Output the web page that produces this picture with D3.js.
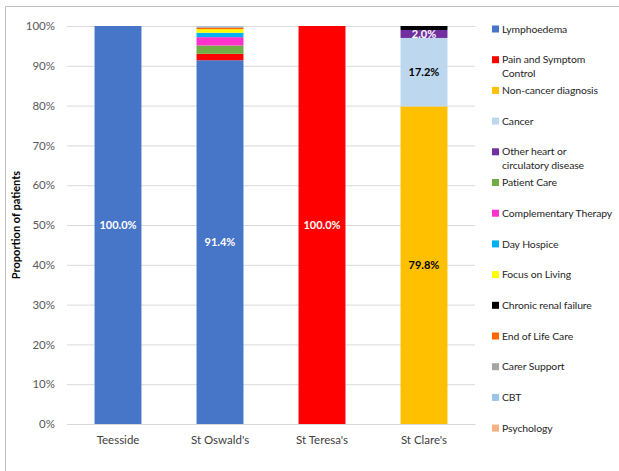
<!DOCTYPE html>
<html>
<head>
<meta charset="utf-8">
<script src="https://cdn.jsdelivr.net/npm/d3@7"></script>
<style>
  body { margin: 0; background: #fff; }
  svg { display: block; font-family: Lato, "Liberation Sans", sans-serif; }
</style>
</head>
<body>
<svg id="chart"></svg>
<script>
// categories and series (percent of patients)
const categories = ["Teesside", "St Oswald's", "St Teresa's", "St Clare's"];
const seriesNames = [
    "Lymphoedema", "Pain and Symptom Control", "Non-cancer diagnosis", "Cancer",
    "Other heart or circulatory disease", "Patient Care", "Complementary Therapy",
    "Day Hospice", "Focus on Living", "Chronic renal failure", "End of Life Care",
    "Carer Support", "CBT", "Psychology"
];
const lymphoedema   = [100, 91.4, 0, 0];
const painSymptom   = [0, 1.6, 100, 0];
const nonCancer     = [0, 0, 0, 79.8];
const cancer        = [0, 0, 0, 17.2];
const otherHeart    = [0, 0, 0, 2.0];
const patientCare   = [0, 2.1, 0, 0];
const complementary = [0, 2.1, 0, 0];
const dayHospice    = [0, 1.1, 0, 0];
const focusLiving   = [0, 0.9, 0, 0];
const chronicRenal  = [0, 0, 0, 1.0];
const endOfLife     = [0, 0.4, 0, 0];
const carerSupport  = [0, 0.2, 0, 0];
const cbt           = [0, 0.2, 0, 0];
const psychology    = [0, 0, 0, 0];
const yTicks = [0, 10, 20, 30, 40, 50, 60, 70, 80, 90, 100];
// segments that carry a data label: [category, series]
const labelled = [
    ["Teesside", "Lymphoedema"],
    ["St Oswald's", "Lymphoedema"],
    ["St Teresa's", "Pain and Symptom Control"],
    ["St Clare's", "Non-cancer diagnosis"],
    ["St Clare's", "Cancer"],
    ["St Clare's", "Other heart or circulatory disease"]
];

const allValues = [lymphoedema, painSymptom, nonCancer, cancer, otherHeart, patientCare,
    complementary, dayHospice, focusLiving, chronicRenal, endOfLife, carerSupport, cbt, psychology];

const colors = ["#4775c8", "#ff0000", "#ffc000", "#bdd7ee", "#7030a0", "#70ad47", "#ff33cc",
    "#00b0f0", "#ffff00", "#000000", "#ff6600", "#a5a5a5", "#9dc3e6", "#f4b183"];
const legendLines = {
    "Pain and Symptom Control": ["Pain and Symptom", "Control"],
    "Other heart or circulatory disease": ["Other heart or", "circulatory disease"]
};
const darkText = new Set(["Non-cancer diagnosis", "Cancer"]);

const table = categories.map((c, i) => {
    const row = { category: c };
    seriesNames.forEach((s, j) => row[s] = allValues[j][i]);
    return row;
});

const width = 619, height = 471;
const margin = { top: 26, right: 144, bottom: 47, left: 67 };
const innerW = width - margin.left - margin.right;
const innerH = height - margin.top - margin.bottom;

const svg = d3.select("#chart").attr("width", width).attr("height", height);

// outer frame (only top and left edges are visible in the crop)
svg.append("path")
    .attr("d", `M5.5,${height} V6.5 H${width}`)
    .attr("fill", "none")
    .attr("stroke", "#bfbfbf");

const chart = svg.append("g")
    .attr("transform", `translate(${margin.left},${margin.top})`);

const xscale = d3.scaleBand()
    .domain(categories)
    .range([0, innerW])
    .paddingInner(0.54)
    .paddingOuter(0.27);

const yscale = d3.scaleLinear()
    .domain([0, 100])
    .range([innerH, 0]);

const color = d3.scaleOrdinal().domain(seriesNames).range(colors);

// gridlines
chart.append("g")
    .selectAll("line")
    .data(yTicks)
    .join("line")
    .attr("x1", 0).attr("x2", innerW)
    .attr("y1", d => yscale(d) + 0.5).attr("y2", d => yscale(d) + 0.5)
    .attr("stroke", "#d9d9d9");

// y axis
const yaxis = d3.axisLeft(yscale).tickValues(yTicks).tickFormat(d => d + "%").tickSize(0).tickPadding(12);
chart.append("g")
    .call(yaxis)
    .call(g => g.select(".domain").remove())
    .selectAll("text")
    .attr("fill", "#595959")
    .attr("font-size", 11.5)
    .attr("font-family", "Lato, sans-serif");

// stacked bars
const stacked = d3.stack().keys(seriesNames)(table);

chart.append("g")
    .selectAll("g")
    .data(stacked)
    .join("g")
    .attr("fill", d => color(d.key))
    .selectAll("rect")
    .data(d => d.filter(p => p[1] - p[0] > 0))
    .join("rect")
    .attr("x", d => xscale(d.data.category))
    .attr("width", xscale.bandwidth())
    .attr("y", d => yscale(d[1]))
    .attr("height", d => yscale(d[0]) - yscale(d[1]));

// x axis
const xaxis = d3.axisBottom(xscale).tickSize(0).tickPadding(12);
chart.append("g")
    .attr("transform", `translate(0,${innerH})`)
    .call(xaxis)
    .call(g => g.select(".domain").attr("stroke", "#d9d9d9"))
    .selectAll("text")
    .attr("fill", "#404040")
    .attr("font-size", 11.5)
    .attr("font-family", "Lato, sans-serif");

// data labels
const labelData = labelled.map(([c, s]) => {
    const layer = stacked.find(l => l.key === s);
    const p = layer[categories.indexOf(c)];
    return { c, s, y0: p[0], y1: p[1], v: p[1] - p[0] };
});

chart.append("g")
    .selectAll("text")
    .data(labelData)
    .join("text")
    .attr("x", d => xscale(d.c) + xscale.bandwidth() / 2)
    .attr("y", d => yscale((d.y0 + d.y1) / 2))
    .attr("dy", "0.35em")
    .attr("text-anchor", "middle")
    .attr("font-size", 11)
    .attr("font-weight", "bold")
    .attr("fill", d => darkText.has(d.s) ? "#000" : "#fff")
    .text(d => d.v.toFixed(1) + "%");

// y axis title
svg.append("text")
    .attr("transform", `translate(20,${margin.top + innerH / 2}) rotate(-90)`)
    .attr("text-anchor", "middle")
    .attr("font-size", 11)
    .attr("font-weight", "bold")
    .attr("fill", "#000")
    .text("Proportion of patients");

// legend
const legend = svg.append("g").attr("transform", "translate(492,29)");
const item = legend.selectAll("g")
    .data(seriesNames)
    .join("g")
    .attr("transform", (d, i) => `translate(0,${i * 30.7})`);

item.append("rect")
    .attr("x", 0).attr("y", -3.5)
    .attr("width", 7).attr("height", 7)
    .attr("fill", d => color(d));

item.append("text")
    .attr("x", 10)
    .attr("font-size", 10.4)
    .attr("letter-spacing", -0.1)
    .attr("fill", "#262626")
    .selectAll("tspan")
    .data(d => legendLines[d] || [d])
    .join("tspan")
    .attr("x", 10)
    .attr("y", (d, i) => i * 13.5)
    .attr("dy", "0.35em")
    .text(d => d);
</script>
</body>
</html>
